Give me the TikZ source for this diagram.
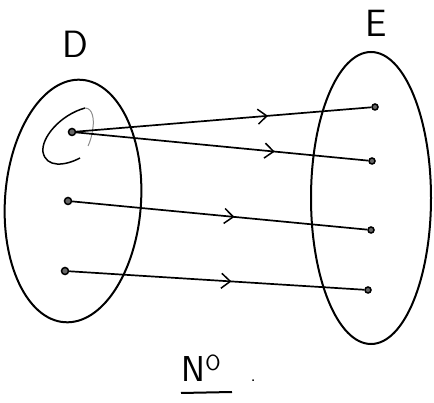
\documentclass[tikz,border=0pt]{standalone}
\usetikzlibrary{shapes.geometric,arrows.meta,decorations.markings}
\begin{document}
\begin{tikzpicture}[x=1pt,y=-1pt,
  setshape/.style={draw,ellipse,line width=2pt,inner sep=0pt},
  elem/.style={circle,draw,line width=1.5pt,fill=black!60,inner sep=0pt,minimum size=7pt},
  mapline/.style={line width=1.7pt},
  midarrow/.style={postaction={decorate},decoration={markings,
     mark=at position #1 with {\arrow{Straight Barb[length=9pt,width=15pt,line width=1.5pt]}}}},
  lab/.style={font=\sffamily\fontsize{38}{38}\selectfont}]
\useasboundingbox (0,0) rectangle (434,403);
% sets
\node[setshape,minimum width=136pt,minimum height=243pt,rotate=-4] (D) at (73,201) {};
\node[setshape,minimum width=120pt,minimum height=292pt] (E) at (371,198) {};
\node[lab] (Dl) at (75,44) {D};
\node[lab] (El) at (376,23) {E};
% elements
\node[elem] (d1) at (72,132) {};
\node[elem] (d2) at (68,201) {};
\node[elem] (d3) at (65,271) {};
\node[elem,minimum size=6pt] (e1) at (375,107) {};
\node[elem,minimum size=6pt] (e2) at (372,161) {};
\node[elem,minimum size=6pt] (e3) at (371,230) {};
\node[elem,minimum size=6pt] (e4) at (368,290) {};
% small loop around d1
\draw[line width=1.5pt] (80,158) .. controls (65,166) and (46,168) .. (43,152)
  .. controls (41,138) and (60,115) .. (85,108);
\draw[line width=1pt,black!45] (85,108) .. controls (93,108) and (94,120) .. (93,127)
  .. controls (92,136) and (90,142) .. (88,146);
% mappings
\draw[mapline,midarrow=0.65] (d1) -- (e1);
\draw[mapline,midarrow=0.68] (d1) -- (e2);
\draw[mapline,midarrow=0.55] (d2) -- (e3);
\draw[mapline,midarrow=0.55] (d3) -- (e4);
% caption
\node[font=\sffamily\fontsize{36}{36}\selectfont,anchor=base west] (no) at (178,382)
  {N\raisebox{11pt}{\fontsize{22}{22}\selectfont O}\hspace{30pt}{\fontsize{20}{20}\selectfont .}};
\coordinate (u1) at (181,393);
\coordinate (u2) at (232,392);
\draw[line width=2pt] (u1) -- (u2);
\end{tikzpicture}
\end{document}
